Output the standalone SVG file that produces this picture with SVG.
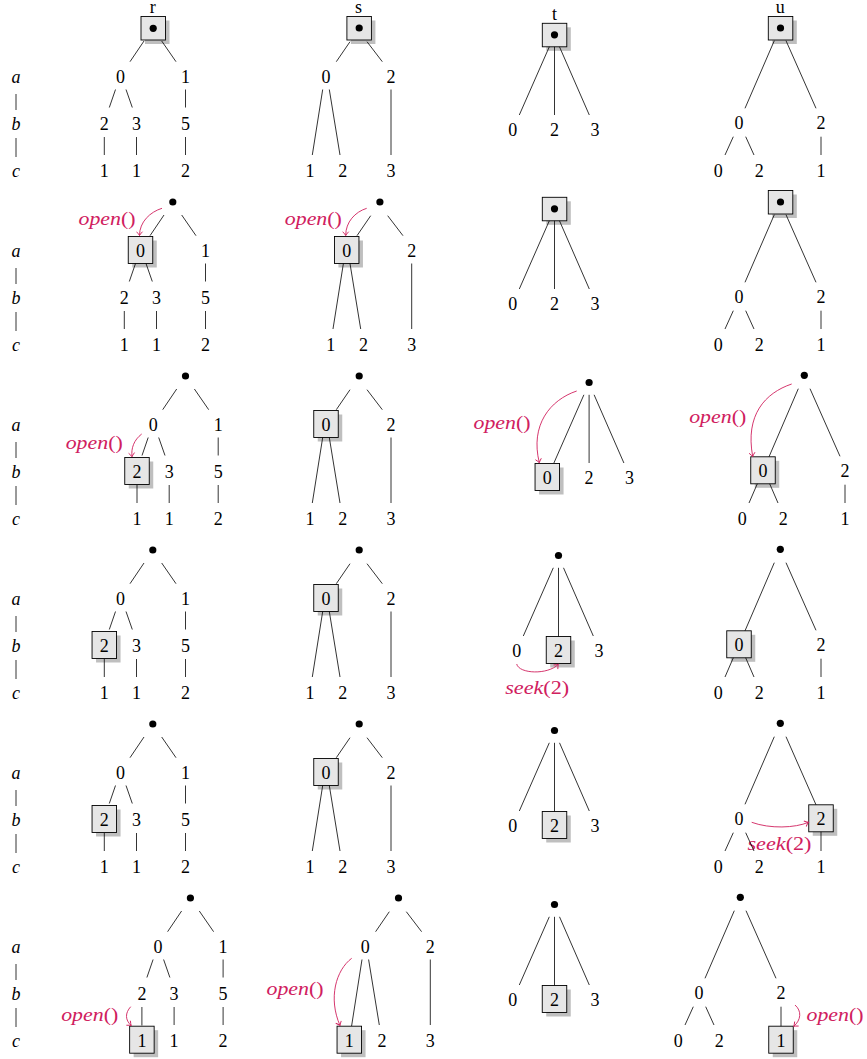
<svg xmlns="http://www.w3.org/2000/svg" width="867" height="1059" viewBox="0 0 867 1059">
<defs>
<style>
.t{font-family:"Liberation Serif","DejaVu Serif",serif;font-size:18px;text-anchor:middle;fill:#000}
.it{font-style:italic}
.e{stroke:#000;stroke-width:0.8;fill:none}
.bx{fill:#e6e6e6;stroke:#000;stroke-width:0.9}
.sh{fill:#bfbfbf}
.an{font-family:"Liberation Serif","DejaVu Serif",serif;font-size:18px;font-style:italic;text-anchor:middle;fill:#d0205e}
.ar{stroke:#d0205e;stroke-width:0.9;fill:none;marker-end:url(#ah)}
</style>
<marker id="ah" markerUnits="userSpaceOnUse" viewBox="-5 -4 6 8" refX="0" refY="0" markerWidth="6" markerHeight="8" orient="auto">
<path d="M-3.8,-3Q-1.2,-0.6 0,0Q-1.2,0.6 -3.8,3" fill="none" stroke="#d0205e" stroke-width="0.9"/>
</marker>
</defs>
<rect width="867" height="1059" fill="#fff"/>

<!-- axis labels -->
<g id="axis1"><text class="t it" x="16" y="83">a</text><text class="t it" x="16" y="130">b</text><text class="t it" x="16" y="176.7">c</text></g>
<g id="axis2" transform="translate(0,174)"><text class="t it" x="16" y="83">a</text><text class="t it" x="16" y="130">b</text><text class="t it" x="16" y="176.7">c</text></g>
<g id="axis3" transform="translate(0,348)"><text class="t it" x="16" y="83">a</text><text class="t it" x="16" y="130">b</text><text class="t it" x="16" y="176.7">c</text></g>
<g id="axis4" transform="translate(0,522)"><text class="t it" x="16" y="83">a</text><text class="t it" x="16" y="130">b</text><text class="t it" x="16" y="176.7">c</text></g>
<g id="axis5" transform="translate(0,696)"><text class="t it" x="16" y="83">a</text><text class="t it" x="16" y="130">b</text><text class="t it" x="16" y="176.7">c</text></g>
<g id="axis6" transform="translate(0,870)"><text class="t it" x="16" y="83">a</text><text class="t it" x="16" y="130">b</text><text class="t it" x="16" y="176.7">c</text></g>

<!-- ===== Tree R ===== -->
<g id="p1-r">
<g id="p1-r-root"><text class="t" x="152.8" y="12.5">r</text><rect class="sh" x="145" y="20.5" width="24.5" height="23.5"/><rect class="bx" x="141" y="16.5" width="24.5" height="23.5"/><circle cx="153.2" cy="28.3" r="3.6"/></g>
<g id="p1-r-a0"><text class="t" x="120.5" y="83">0</text></g>
<g id="p1-r-a1"><text class="t" x="185.5" y="83">1</text></g>
<g id="p1-r-b2"><text class="t" x="104.3" y="130">2</text></g>
<g id="p1-r-b3"><text class="t" x="136.5" y="130">3</text></g>
<g id="p1-r-b5"><text class="t" x="185.5" y="130">5</text></g>
<g id="p1-r-c1"><text class="t" x="104.3" y="176.7">1</text></g>
<g id="p1-r-c1b"><text class="t" x="136.5" y="176.7">1</text></g>
<g id="p1-r-c2"><text class="t" x="185.5" y="176.7">2</text></g>
</g>
<g id="p2-r" transform="translate(20,174)">
<g id="p2-r-root"><circle cx="152.8" cy="28" r="3.6"/></g>
<g id="p2-r-a0"><rect class="sh" x="112.25" y="66.5" width="24.5" height="27"/><rect class="bx" x="108.25" y="62.5" width="24.5" height="27"/><text class="t" x="120.5" y="83">0</text></g>
<g id="p2-r-a1"><text class="t" x="185.5" y="83">1</text></g>
<g id="p2-r-b2"><text class="t" x="104.3" y="130">2</text></g>
<g id="p2-r-b3"><text class="t" x="136.5" y="130">3</text></g>
<g id="p2-r-b5"><text class="t" x="185.5" y="130">5</text></g>
<g id="p2-r-c1"><text class="t" x="104.3" y="176.7">1</text></g>
<g id="p2-r-c1b"><text class="t" x="136.5" y="176.7">1</text></g>
<g id="p2-r-c2"><text class="t" x="185.5" y="176.7">2</text></g>
</g>
<g id="p3-r" transform="translate(32.7,348)">
<g id="p3-r-root"><circle cx="152.8" cy="28" r="3.6"/></g>
<g id="p3-r-a0"><text class="t" x="120.5" y="83">0</text></g>
<g id="p3-r-a1"><text class="t" x="185.5" y="83">1</text></g>
<g id="p3-r-b2"><rect class="sh" x="96.05" y="113.5" width="24.5" height="27"/><rect class="bx" x="92.05" y="109.5" width="24.5" height="27"/><text class="t" x="104.3" y="130">2</text></g>
<g id="p3-r-b3"><text class="t" x="136.5" y="130">3</text></g>
<g id="p3-r-b5"><text class="t" x="185.5" y="130">5</text></g>
<g id="p3-r-c1"><text class="t" x="104.3" y="176.7">1</text></g>
<g id="p3-r-c1b"><text class="t" x="136.5" y="176.7">1</text></g>
<g id="p3-r-c2"><text class="t" x="185.5" y="176.7">2</text></g>
</g>
<g id="p4-r" transform="translate(0,522)">
<g id="p4-r-root"><circle cx="152.8" cy="28" r="3.6"/></g>
<g id="p4-r-a0"><text class="t" x="120.5" y="83">0</text></g>
<g id="p4-r-a1"><text class="t" x="185.5" y="83">1</text></g>
<g id="p4-r-b2"><rect class="sh" x="96.05" y="113.5" width="24.5" height="27"/><rect class="bx" x="92.05" y="109.5" width="24.5" height="27"/><text class="t" x="104.3" y="130">2</text></g>
<g id="p4-r-b3"><text class="t" x="136.5" y="130">3</text></g>
<g id="p4-r-b5"><text class="t" x="185.5" y="130">5</text></g>
<g id="p4-r-c1"><text class="t" x="104.3" y="176.7">1</text></g>
<g id="p4-r-c1b"><text class="t" x="136.5" y="176.7">1</text></g>
<g id="p4-r-c2"><text class="t" x="185.5" y="176.7">2</text></g>
</g>
<g id="p5-r" transform="translate(0,696)">
<g id="p5-r-root"><circle cx="152.8" cy="28" r="3.6"/></g>
<g id="p5-r-a0"><text class="t" x="120.5" y="83">0</text></g>
<g id="p5-r-a1"><text class="t" x="185.5" y="83">1</text></g>
<g id="p5-r-b2"><rect class="sh" x="96.05" y="113.5" width="24.5" height="27"/><rect class="bx" x="92.05" y="109.5" width="24.5" height="27"/><text class="t" x="104.3" y="130">2</text></g>
<g id="p5-r-b3"><text class="t" x="136.5" y="130">3</text></g>
<g id="p5-r-b5"><text class="t" x="185.5" y="130">5</text></g>
<g id="p5-r-c1"><text class="t" x="104.3" y="176.7">1</text></g>
<g id="p5-r-c1b"><text class="t" x="136.5" y="176.7">1</text></g>
<g id="p5-r-c2"><text class="t" x="185.5" y="176.7">2</text></g>
</g>
<g id="p6-r" transform="translate(37.6,870)">
<g id="p6-r-root"><circle cx="152.8" cy="28" r="3.6"/></g>
<g id="p6-r-a0"><text class="t" x="120.5" y="83">0</text></g>
<g id="p6-r-a1"><text class="t" x="185.5" y="83">1</text></g>
<g id="p6-r-b2"><text class="t" x="104.3" y="130">2</text></g>
<g id="p6-r-b3"><text class="t" x="136.5" y="130">3</text></g>
<g id="p6-r-b5"><text class="t" x="185.5" y="130">5</text></g>
<g id="p6-r-c1"><rect class="sh" x="96.05" y="160.2" width="24.5" height="27"/><rect class="bx" x="92.05" y="156.2" width="24.5" height="27"/><text class="t" x="104.3" y="176.7">1</text></g>
<g id="p6-r-c1b"><text class="t" x="136.5" y="176.7">1</text></g>
<g id="p6-r-c2"><text class="t" x="185.5" y="176.7">2</text></g>
</g>

<!-- ===== Tree S ===== -->
<g id="p1-s">
<g id="p1-s-root"><text class="t" x="358.5" y="12.8">s</text><rect class="sh" x="350.9" y="20.5" width="24.5" height="23.5"/><rect class="bx" x="346.9" y="16.5" width="24.5" height="23.5"/><circle cx="359.2" cy="28" r="3.6"/></g>
<g id="p1-s-a0"><text class="t" x="326" y="83">0</text></g>
<g id="p1-s-a2"><text class="t" x="391" y="83">2</text></g>
<g id="p1-s-c1"><text class="t" x="310" y="176.7">1</text></g>
<g id="p1-s-c2"><text class="t" x="342.7" y="176.7">2</text></g>
<g id="p1-s-c3"><text class="t" x="391" y="176.7">3</text></g>
</g>
<g id="p2-s" transform="translate(20.7,174)">
<g id="p2-s-root"><circle cx="359.2" cy="28" r="3.6"/></g>
<g id="p2-s-a0"><rect class="sh" x="317.75" y="66.5" width="24.5" height="27"/><rect class="bx" x="313.75" y="62.5" width="24.5" height="27"/><text class="t" x="326" y="83">0</text></g>
<g id="p2-s-a2"><text class="t" x="391" y="83">2</text></g>
<g id="p2-s-c1"><text class="t" x="310" y="176.7">1</text></g>
<g id="p2-s-c2"><text class="t" x="342.7" y="176.7">2</text></g>
<g id="p2-s-c3"><text class="t" x="391" y="176.7">3</text></g>
</g>
<g id="p3-s" transform="translate(0,348)">
<g id="p3-s-root"><circle cx="359.2" cy="28" r="3.6"/></g>
<g id="p3-s-a0"><rect class="sh" x="317.75" y="66.5" width="24.5" height="27"/><rect class="bx" x="313.75" y="62.5" width="24.5" height="27"/><text class="t" x="326" y="83">0</text></g>
<g id="p3-s-a2"><text class="t" x="391" y="83">2</text></g>
<g id="p3-s-c1"><text class="t" x="310" y="176.7">1</text></g>
<g id="p3-s-c2"><text class="t" x="342.7" y="176.7">2</text></g>
<g id="p3-s-c3"><text class="t" x="391" y="176.7">3</text></g>
</g>
<g id="p4-s" transform="translate(0,522)">
<g id="p4-s-root"><circle cx="359.2" cy="28" r="3.6"/></g>
<g id="p4-s-a0"><rect class="sh" x="317.75" y="66.5" width="24.5" height="27"/><rect class="bx" x="313.75" y="62.5" width="24.5" height="27"/><text class="t" x="326" y="83">0</text></g>
<g id="p4-s-a2"><text class="t" x="391" y="83">2</text></g>
<g id="p4-s-c1"><text class="t" x="310" y="176.7">1</text></g>
<g id="p4-s-c2"><text class="t" x="342.7" y="176.7">2</text></g>
<g id="p4-s-c3"><text class="t" x="391" y="176.7">3</text></g>
</g>
<g id="p5-s" transform="translate(0,696)">
<g id="p5-s-root"><circle cx="359.2" cy="28" r="3.6"/></g>
<g id="p5-s-a0"><rect class="sh" x="317.75" y="66.5" width="24.5" height="27"/><rect class="bx" x="313.75" y="62.5" width="24.5" height="27"/><text class="t" x="326" y="83">0</text></g>
<g id="p5-s-a2"><text class="t" x="391" y="83">2</text></g>
<g id="p5-s-c1"><text class="t" x="310" y="176.7">1</text></g>
<g id="p5-s-c2"><text class="t" x="342.7" y="176.7">2</text></g>
<g id="p5-s-c3"><text class="t" x="391" y="176.7">3</text></g>
</g>
<g id="p6-s" transform="translate(39.3,870)">
<g id="p6-s-root"><circle cx="359.2" cy="28" r="3.6"/></g>
<g id="p6-s-a0"><text class="t" x="326" y="83">0</text></g>
<g id="p6-s-a2"><text class="t" x="391" y="83">2</text></g>
<g id="p6-s-c1"><rect class="sh" x="301.75" y="160.2" width="24.5" height="27"/><rect class="bx" x="297.75" y="156.2" width="24.5" height="27"/><text class="t" x="310" y="176.7">1</text></g>
<g id="p6-s-c2"><text class="t" x="342.7" y="176.7">2</text></g>
<g id="p6-s-c3"><text class="t" x="391" y="176.7">3</text></g>
</g>

<!-- ===== Tree T ===== -->
<g id="p1-t">
<g id="p1-t-root"><text class="t" x="554.5" y="20">t</text><rect class="sh" x="546.3" y="27.3" width="24.5" height="23.5"/><rect class="bx" x="542.3" y="23.3" width="24.5" height="23.5"/><circle cx="554.5" cy="34.8" r="3.6"/></g>
<g id="p1-t-c0"><text class="t" x="512.7" y="136">0</text></g>
<g id="p1-t-c2"><text class="t" x="554.5" y="136">2</text></g>
<g id="p1-t-c3"><text class="t" x="595" y="136">3</text></g>
</g>
<g id="p2-t" transform="translate(0,174)">
<g id="p2-t-root"><rect class="sh" x="546.3" y="27.3" width="24.5" height="23.5"/><rect class="bx" x="542.3" y="23.3" width="24.5" height="23.5"/><circle cx="554.5" cy="34.8" r="3.6"/></g>
<g id="p2-t-c0"><text class="t" x="512.7" y="136">0</text></g>
<g id="p2-t-c2"><text class="t" x="554.5" y="136">2</text></g>
<g id="p2-t-c3"><text class="t" x="595" y="136">3</text></g>
</g>
<g id="p3-t" transform="translate(34.6,348)">
<g id="p3-t-root"><circle cx="554.5" cy="34.5" r="3.6"/></g>
<g id="p3-t-c0"><rect class="sh" x="504.45" y="119.5" width="24.5" height="27"/><rect class="bx" x="500.45" y="115.5" width="24.5" height="27"/><text class="t" x="512.7" y="136">0</text></g>
<g id="p3-t-c2"><text class="t" x="554.5" y="136">2</text></g>
<g id="p3-t-c3"><text class="t" x="595" y="136">3</text></g>
</g>
<g id="p4-t" transform="translate(4,521)">
<g id="p4-t-root"><circle cx="554.5" cy="34.5" r="3.6"/></g>
<g id="p4-t-c0"><text class="t" x="512.7" y="136">0</text></g>
<g id="p4-t-c2"><rect class="sh" x="546.25" y="119.5" width="24.5" height="27"/><rect class="bx" x="542.25" y="115.5" width="24.5" height="27"/><text class="t" x="554.5" y="136">2</text></g>
<g id="p4-t-c3"><text class="t" x="595" y="136">3</text></g>
</g>
<g id="p5-t" transform="translate(0,696)">
<g id="p5-t-root"><circle cx="554.5" cy="34.5" r="3.6"/></g>
<g id="p5-t-c0"><text class="t" x="512.7" y="136">0</text></g>
<g id="p5-t-c2"><rect class="sh" x="546.25" y="119.5" width="24.5" height="27"/><rect class="bx" x="542.25" y="115.5" width="24.5" height="27"/><text class="t" x="554.5" y="136">2</text></g>
<g id="p5-t-c3"><text class="t" x="595" y="136">3</text></g>
</g>
<g id="p6-t" transform="translate(0,870)">
<g id="p6-t-root"><circle cx="554.5" cy="34.5" r="3.6"/></g>
<g id="p6-t-c0"><text class="t" x="512.7" y="136">0</text></g>
<g id="p6-t-c2"><rect class="sh" x="546.25" y="119.5" width="24.5" height="27"/><rect class="bx" x="542.25" y="115.5" width="24.5" height="27"/><text class="t" x="554.5" y="136">2</text></g>
<g id="p6-t-c3"><text class="t" x="595" y="136">3</text></g>
</g>

<!-- ===== Tree U ===== -->
<g id="p1-u">
<g id="p1-u-root"><text class="t" x="780.3" y="12.8">u</text><rect class="sh" x="772.3" y="20.5" width="24.5" height="23.5"/><rect class="bx" x="768.3" y="16.5" width="24.5" height="23.5"/><circle cx="780.5" cy="28" r="3.6"/></g>
<g id="p1-u-a0"><text class="t" x="739" y="129.3">0</text></g>
<g id="p1-u-a2"><text class="t" x="821" y="129.3">2</text></g>
<g id="p1-u-c0"><text class="t" x="718.3" y="176.7">0</text></g>
<g id="p1-u-c2"><text class="t" x="759.3" y="176.7">2</text></g>
<g id="p1-u-c1"><text class="t" x="821" y="176.7">1</text></g>
</g>
<g id="p2-u" transform="translate(0,174)">
<g id="p2-u-root"><rect class="sh" x="772.3" y="20.5" width="24.5" height="23.5"/><rect class="bx" x="768.3" y="16.5" width="24.5" height="23.5"/><circle cx="780.5" cy="28" r="3.6"/></g>
<g id="p2-u-a0"><text class="t" x="739" y="129.3">0</text></g>
<g id="p2-u-a2"><text class="t" x="821" y="129.3">2</text></g>
<g id="p2-u-c0"><text class="t" x="718.3" y="176.7">0</text></g>
<g id="p2-u-c2"><text class="t" x="759.3" y="176.7">2</text></g>
<g id="p2-u-c1"><text class="t" x="821" y="176.7">1</text></g>
</g>
<g id="p3-u" transform="translate(24,348)">
<g id="p3-u-root"><circle cx="780.3" cy="27.3" r="3.6"/></g>
<g id="p3-u-a0"><rect class="sh" x="730.75" y="112.8" width="24.5" height="27"/><rect class="bx" x="726.75" y="108.8" width="24.5" height="27"/><text class="t" x="739" y="129.3">0</text></g>
<g id="p3-u-a2"><text class="t" x="821" y="129.3">2</text></g>
<g id="p3-u-c0"><text class="t" x="718.3" y="176.7">0</text></g>
<g id="p3-u-c2"><text class="t" x="759.3" y="176.7">2</text></g>
<g id="p3-u-c1"><text class="t" x="821" y="176.7">1</text></g>
</g>
<g id="p4-u" transform="translate(0,522)">
<g id="p4-u-root"><circle cx="780.3" cy="27.3" r="3.6"/></g>
<g id="p4-u-a0"><rect class="sh" x="730.75" y="112.8" width="24.5" height="27"/><rect class="bx" x="726.75" y="108.8" width="24.5" height="27"/><text class="t" x="739" y="129.3">0</text></g>
<g id="p4-u-a2"><text class="t" x="821" y="129.3">2</text></g>
<g id="p4-u-c0"><text class="t" x="718.3" y="176.7">0</text></g>
<g id="p4-u-c2"><text class="t" x="759.3" y="176.7">2</text></g>
<g id="p4-u-c1"><text class="t" x="821" y="176.7">1</text></g>
</g>
<g id="p5-u" transform="translate(0,696)">
<g id="p5-u-root"><circle cx="780.3" cy="27.3" r="3.6"/></g>
<g id="p5-u-a0"><text class="t" x="739" y="129.3">0</text></g>
<g id="p5-u-a2"><rect class="sh" x="812.75" y="112.8" width="24.5" height="27"/><rect class="bx" x="808.75" y="108.8" width="24.5" height="27"/><text class="t" x="821" y="129.3">2</text></g>
<g id="p5-u-c0"><text class="t" x="718.3" y="176.7">0</text></g>
<g id="p5-u-c2"><text class="t" x="759.3" y="176.7">2</text></g>
<g id="p5-u-c1"><text class="t" x="821" y="176.7">1</text></g>
</g>
<g id="p6-u" transform="translate(-40,870)">
<g id="p6-u-root"><circle cx="780.3" cy="27.3" r="3.6"/></g>
<g id="p6-u-a0"><text class="t" x="739" y="129.3">0</text></g>
<g id="p6-u-a2"><text class="t" x="821" y="129.3">2</text></g>
<g id="p6-u-c0"><text class="t" x="718.3" y="176.7">0</text></g>
<g id="p6-u-c2"><text class="t" x="759.3" y="176.7">2</text></g>
<g id="p6-u-c1"><rect class="sh" x="812.75" y="160.2" width="24.5" height="27"/><rect class="bx" x="808.75" y="156.2" width="24.5" height="27"/><text class="t" x="821" y="176.7">1</text></g>
</g>

<!-- operation labels -->
<g id="notes">
<g id="note-p2r"><text class="an" x="107" y="225" textLength="57" lengthAdjust="spacingAndGlyphs">open<tspan font-style="normal">()</tspan></text></g>
<g id="note-p2s"><text class="an" x="313.3" y="225" textLength="57" lengthAdjust="spacingAndGlyphs">open<tspan font-style="normal">()</tspan></text></g>
<g id="note-p3r"><text class="an" x="94.2" y="448.5" textLength="57" lengthAdjust="spacingAndGlyphs">open<tspan font-style="normal">()</tspan></text></g>
<g id="note-p3t"><text class="an" x="502" y="428.5" textLength="57" lengthAdjust="spacingAndGlyphs">open<tspan font-style="normal">()</tspan></text></g>
<g id="note-p3u"><text class="an" x="717.7" y="422.5" textLength="57" lengthAdjust="spacingAndGlyphs">open<tspan font-style="normal">()</tspan></text></g>
<g id="note-p4t"><text class="an" x="537.2" y="694" textLength="64" lengthAdjust="spacingAndGlyphs">seek<tspan font-style="normal">(2)</tspan></text></g>
<g id="note-p5u"><text class="an" x="779.5" y="850" textLength="64" lengthAdjust="spacingAndGlyphs">seek<tspan font-style="normal">(2)</tspan></text></g>
<g id="note-p6r"><text class="an" x="89.7" y="1021" textLength="57" lengthAdjust="spacingAndGlyphs">open<tspan font-style="normal">()</tspan></text></g>
<g id="note-p6s"><text class="an" x="295" y="994.5" textLength="57" lengthAdjust="spacingAndGlyphs">open<tspan font-style="normal">()</tspan></text></g>
<g id="note-p6u"><text class="an" x="835" y="1021" textLength="57" lengthAdjust="spacingAndGlyphs">open<tspan font-style="normal">()</tspan></text></g>
</g>

<!-- connectors -->
<g id="connectors">
<g id="axis-lines" class="e">
<path class="e" d="M16,94V110M16,138V157M16,268V284M16,312V331M16,442V458M16,486V505M16,616V632M16,660V679M16,790V806M16,834V853M16,964V980M16,1008V1027"/>
</g>
<g id="edges-r">
<path class="e" d="M144,41L130,61.7M161.7,41L176,61.7M115.5,89.5L109.3,107.5M126,89.5L132.3,107.5M185.5,89.5V107.5M104.3,137V155M136.5,137V155M185.5,137V155"/>
<path class="e" transform="translate(20,174)" d="M144,41L130,61.7M161.7,41L176,61.7M115.5,89.5L109.3,107.5M126,89.5L132.3,107.5M185.5,89.5V107.5M104.3,137V155M136.5,137V155M185.5,137V155"/>
<path class="e" transform="translate(32.7,348)" d="M144,41L130,61.7M161.7,41L176,61.7M115.5,89.5L109.3,107.5M126,89.5L132.3,107.5M185.5,89.5V107.5M104.3,137V155M136.5,137V155M185.5,137V155"/>
<path class="e" transform="translate(0,522)" d="M144,41L130,61.7M161.7,41L176,61.7M115.5,89.5L109.3,107.5M126,89.5L132.3,107.5M185.5,89.5V107.5M104.3,137V155M136.5,137V155M185.5,137V155"/>
<path class="e" transform="translate(0,696)" d="M144,41L130,61.7M161.7,41L176,61.7M115.5,89.5L109.3,107.5M126,89.5L132.3,107.5M185.5,89.5V107.5M104.3,137V155M136.5,137V155M185.5,137V155"/>
<path class="e" transform="translate(37.6,870)" d="M144,41L130,61.7M161.7,41L176,61.7M115.5,89.5L109.3,107.5M126,89.5L132.3,107.5M185.5,89.5V107.5M104.3,137V155.5M136.5,137V155M185.5,137V155"/>
</g>
<g id="edges-s">
<path class="e" d="M350,41.7L336.3,61.7M367,41.7L382.3,61.7M322.7,89.5L312.3,155M329.3,89.5L340,155M391,89.5V155"/>
<path class="e" transform="translate(20.7,174)" d="M350,41.7L336.3,61.7M367,41.7L382.3,61.7M322.7,89.5L312.3,155M329.3,89.5L340,155M391,89.5V155"/>
<path class="e" transform="translate(0,348)" d="M350,41.7L336.3,61.7M367,41.7L382.3,61.7M322.7,89.5L312.3,155M329.3,89.5L340,155M391,89.5V155"/>
<path class="e" transform="translate(0,522)" d="M350,41.7L336.3,61.7M367,41.7L382.3,61.7M322.7,89.5L312.3,155M329.3,89.5L340,155M391,89.5V155"/>
<path class="e" transform="translate(0,696)" d="M350,41.7L336.3,61.7M367,41.7L382.3,61.7M322.7,89.5L312.3,155M329.3,89.5L340,155M391,89.5V155"/>
<path class="e" transform="translate(39.3,870)" d="M350,41.7L336.3,61.7M367,41.7L382.3,61.7M322.7,89.5L312.3,156M329.3,89.5L340,155M391,89.5V155"/>
</g>
<g id="edges-t">
<path class="e" d="M549.3,46.8L519.3,115M554.5,46.8V115M559.5,46.8L589.3,115"/>
<path class="e" transform="translate(0,174)" d="M549.3,46.8L519.3,115M554.5,46.8V115M559.5,46.8L589.3,115"/>
<path class="e" transform="translate(34.6,348)" d="M549.3,46.8L519.3,115M554.5,46.8V115M559.5,46.8L589.3,115"/>
<path class="e" transform="translate(4,521)" d="M549.3,46.8L519.3,115M554.5,46.8V115.5M559.5,46.8L589.3,115"/>
<path class="e" transform="translate(0,696)" d="M549.3,46.8L519.3,115M554.5,46.8V115.5M559.5,46.8L589.3,115"/>
<path class="e" transform="translate(0,870)" d="M549.3,46.8L519.3,115M554.5,46.8V115.5M559.5,46.8L589.3,115"/>
</g>
<g id="edges-u">
<path class="e" d="M774.3,40.7L745,108.3M786,40.7L816,108.3M733.3,136.7L725,155M745.7,136.7L754,155M821,136.7V155"/>
<path class="e" transform="translate(0,174)" d="M774.3,40.7L745,108.3M786,40.7L816,108.3M733.3,136.7L725,155M745.7,136.7L754,155M821,136.7V155"/>
<path class="e" transform="translate(24,348)" d="M774.3,40.7L745,108.8M786,40.7L816,108.3M733.3,135.8L725,155M745.7,135.8L754,155M821,136.7V155"/>
<path class="e" transform="translate(0,522)" d="M774.3,40.7L745,108.8M786,40.7L816,108.3M733.3,135.8L725,155M745.7,135.8L754,155M821,136.7V155"/>
<path class="e" transform="translate(0,696)" d="M774.3,40.7L745,108.3M786,40.7L816,108.8M733.3,136.7L725,155M745.7,136.7L754,155M821,135.8V155"/>
<path class="e" transform="translate(-40,870)" d="M774.3,40.7L745,108.3M786,40.7L816,108.3M733.3,136.7L725,155M745.7,136.7L754,155M821,136.7V156.2"/>
</g>
<g id="op-arrows">
<path class="ar" d="M162,208.3C150,212 139.5,222 139.5,235.5"/>
<path class="ar" d="M366.7,208.3C355,212 345.7,222 345.7,235.5"/>
<path class="ar" d="M141.7,434C134,440 131,448 132,456.7"/>
<path class="ar" d="M576.7,391C550,400 530,425 539.3,462.7"/>
<path class="ar" d="M791.7,384C765,393 745,415 752.7,456.5"/>
<path class="ar" d="M516.7,664C519,674 548,675 558.3,664.3"/>
<path class="ar" d="M751.7,822.3C770,829 795,828 808.5,822.3"/>
<path class="ar" d="M130.7,1006.7C125,1013 125,1020 131.2,1025.5"/>
<path class="ar" d="M351.7,958.3C336,970 328,998 340,1025.5"/>
<path class="ar" d="M795,1005C802,1011 801,1020 793.8,1026.3"/>
</g>
</g>
</svg>
